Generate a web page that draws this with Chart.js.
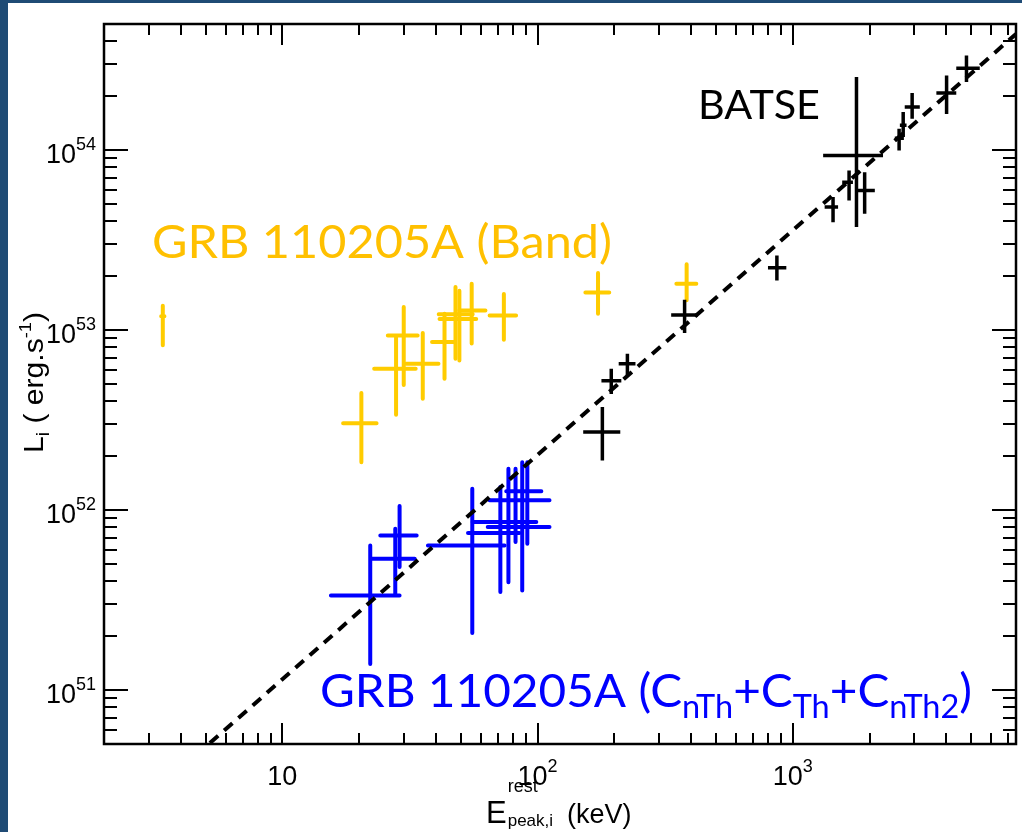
<!DOCTYPE html>
<html>
<head>
<meta charset="utf-8">
<title>GRB 110205A - Li vs Epeak</title>
<script src="https://cdn.jsdelivr.net/npm/chart.js@4.4.1/dist/chart.umd.min.js"></script>
<style>
  html, body { margin: 0; padding: 0; background: #fff; }
  canvas { display: block; }
</style>
</head>
<body>
<canvas id="chart" width="1022" height="832"></canvas>
<script>
// Axis ranges
const X_MIN = 2, X_MAX = 7500;
const Y_MIN = 5e50, Y_MAX = 5e54;

// Major tick labels (base 10 with exponent)
const xMajorTicks = [10, 100, 1000];
const xTickExps = ['', '2', '3'];
const yMajorTicks = [1e51, 1e52, 1e53, 1e54];
const yTickExps = ['51', '52', '53', '54'];

// GRB 110205A (Band) - yellow
const bandE   = [3.4, 20.4, 27.9, 29.9, 35.5, 43.2, 47.7, 49.4, 55.2, 73.8, 172.6, 384];
const bandELo = [3.35, 17.3, 22.9, 25.9, 30.5, 38.6, 41.0, 41.3, 49.4, 64.9, 154, 350];
const bandEHi = [3.45, 23.4, 33.3, 33.9, 40.9, 47.3, 55.7, 57.5, 62.5, 82.4, 191, 419];
const bandL   = [1.19e53, 3.03e52, 6.07e52, 9.3e52, 6.47e52, 8.55e52, 1.22e53, 1.15e53, 1.28e53, 1.20e53, 1.61e53, 1.80e53];
const bandLLo = [8.2e52, 1.84e52, 3.37e52, 4.94e52, 4.14e52, 5.35e52, 6.9e52, 6.75e52, 8.4e52, 8.8e52, 1.23e53, 1.46e53];
const bandLHi = [1.36e53, 4.45e52, 9.1e52, 1.34e53, 9.6e52, 1.23e53, 1.73e53, 1.65e53, 1.80e53, 1.58e53, 2.07e53, 2.31e53];

// BATSE - black
const batseE   = [179.5, 194.5, 225, 377, 867, 1778, 1439, 1663, 1914, 2612, 2710, 2938, 4009, 4797];
const batseELo = [151, 178, 208, 334, 800, 1316, 1334, 1563, 1802, 2512, 2630, 2748, 3656, 4375];
const batseEHi = [211, 213, 242, 425, 944, 2259, 1506, 1722, 2098, 2727, 2793, 3148, 4375, 5408];
const batseL   = [2.71e52, 5.22e52, 6.47e52, 1.21e53, 2.21e53, 9.3e53, 4.81e53, 6.6e53, 5.94e53, 1.16e54, 1.37e54, 1.73e54, 2.07e54, 2.84e54];
const batseLLo = [1.88e52, 4.4e52, 5.57e52, 9.6e52, 1.88e53, 3.72e53, 3.96e53, 5.23e53, 4.41e53, 9.9e53, 1.18e54, 1.49e54, 1.58e54, 2.38e54];
const batseLHi = [3.72e52, 6.07e52, 7.36e52, 1.47e53, 2.59e53, 2.54e54, 5.46e53, 7.67e53, 7.51e53, 1.31e54, 1.62e54, 2.07e54, 2.59e54, 3.34e54];

// GRB 110205A (CnTh+CTh+CnTh2) - blue
const cthE   = [22.1, 27.7, 28.8, 55.5, 71.5, 76.9, 82.0, 87.1, 91.2];
const cthELo = [15.5, 22.3, 24.2, 37.2, 53.4, 55.7, 64.9, 63.8, 75.4];
const cthEHi = [28.8, 33.0, 33.6, 74.3, 84.9, 98.9, 111.4, 111.4, 103.5];
const cthL   = [3.34e51, 5.35e51, 7.2e51, 6.34e51, 7.43e51, 8.55e51, 1.13e52, 8.02e51, 1.27e52];
const cthLLo = [1.39e51, 3.41e51, 4.81e51, 2.07e51, 3.49e51, 3.96e51, 6.62e51, 3.56e51, 6.47e51];
const cthLHi = [6.34e51, 7.84e51, 1.05e52, 1.31e52, 1.34e52, 1.69e52, 1.69e52, 1.84e52, 1.84e52];

// Dashed correlation line (end points)
const fitE = [5.2, 7500];
const fitL = [5.06e50, 4.4e54];

const TICK_FONT = '"Liberation Sans", Arial, sans-serif';
const NOTE_FONT = 'Lato, "Open Sans", sans-serif';

function toPoints(E, ELo, EHi, L, LLo, LHi) {
    return E.map((e, i) => ({ x: e, y: L[i], xMin: ELo[i], xMax: EHi[i], yMin: LLo[i], yMax: LHi[i] }));
}

// Text made of runs: [text, fontSize, yOffset]
function runsWidth(ctx, runs, family) {
    let w = 0;
    runs.forEach(r => {
        ctx.font = r[1] + 'px ' + family;
        w += ctx.measureText(r[0]).width;
    });
    return w;
}

function drawRuns(ctx, runs, family, x, y, color, fitWidth, rotate) {
    const w = runsWidth(ctx, runs, family);
    const sx = fitWidth ? fitWidth / w : 1;
    ctx.save();
    ctx.translate(x, y);
    if (rotate) ctx.rotate(rotate);
    ctx.scale(sx, 1);
    ctx.fillStyle = color;
    ctx.textAlign = 'left';
    ctx.textBaseline = 'alphabetic';
    let cx = 0;
    runs.forEach(r => {
        ctx.font = r[1] + 'px ' + family;
        ctx.fillText(r[0], cx, r[2]);
        cx += ctx.measureText(r[0]).width;
    });
    ctx.restore();
}

// Crosses for each point, drawn under the dashed line
const errorBarPlugin = {
    id: 'errorBars',
    beforeDatasetsDraw(chart) {
        const { ctx, chartArea: a, scales: { x, y } } = chart;
        ctx.save();
        ctx.beginPath();
        ctx.rect(a.left, a.top, a.right - a.left, a.bottom - a.top);
        ctx.clip();
        chart.data.datasets.forEach(ds => {
            if (!ds.errorColor) return;
            ctx.strokeStyle = ds.errorColor;
            ctx.lineWidth = ds.errorWidth;
            ctx.lineCap = ds.errorCap;
            ds.data.forEach(p => {
                const px = x.getPixelForValue(p.x);
                const py = y.getPixelForValue(p.y);
                ctx.beginPath();
                ctx.moveTo(x.getPixelForValue(p.xMin), py);
                ctx.lineTo(x.getPixelForValue(p.xMax), py);
                ctx.moveTo(px, y.getPixelForValue(p.yMax));
                ctx.lineTo(px, y.getPixelForValue(p.yMin));
                ctx.stroke();
            });
        });
        ctx.restore();
    }
};

// Slide background, frame, inward ticks, labels and notes
const framePlugin = {
    id: 'frame',
    beforeDraw(chart) {
        const ctx = chart.ctx;
        ctx.save();
        ctx.fillStyle = '#ffffff';
        ctx.fillRect(0, 0, chart.width, chart.height);
        ctx.fillStyle = '#1f4b75';
        ctx.fillRect(0, 0, 8, chart.height);
        ctx.fillRect(0, 0, chart.width, 3);
        ctx.restore();
    },
    afterDraw(chart) {
        const { ctx, chartArea: a, scales: { x, y } } = chart;
        ctx.save();
        ctx.strokeStyle = '#000';
        ctx.lineWidth = 2;
        ctx.lineCap = 'butt';

        // x ticks on bottom and top
        for (let d = 0; d <= 4; d++) {
            for (let m = 1; m <= 9; m++) {
                const v = m * Math.pow(10, d);
                if (v <= X_MIN || v >= X_MAX) continue;
                const px = Math.round(x.getPixelForValue(v));
                const len = m === 1 ? 21 : 11;
                ctx.beginPath();
                ctx.moveTo(px, a.bottom); ctx.lineTo(px, a.bottom - len);
                ctx.moveTo(px, a.top); ctx.lineTo(px, a.top + len);
                ctx.stroke();
            }
        }
        // y ticks on left and right
        for (let d = 50; d <= 54; d++) {
            for (let m = 1; m <= 9; m++) {
                const v = m * Math.pow(10, d);
                if (v <= Y_MIN * 1.0001 || v >= Y_MAX * 0.9999) continue;
                const py = Math.round(y.getPixelForValue(v));
                const len = m === 1 ? 24 : 13;
                ctx.beginPath();
                ctx.moveTo(a.left, py); ctx.lineTo(a.left + len, py);
                ctx.moveTo(a.right, py); ctx.lineTo(a.right - len, py);
                ctx.stroke();
            }
        }
        // frame
        ctx.lineWidth = 2.5;
        ctx.strokeRect(a.left, a.top, a.right - a.left, a.bottom - a.top);

        // x tick labels
        xMajorTicks.forEach((v, i) => {
            const runs = [['10', 27, 0]];
            if (xTickExps[i]) runs.push([xTickExps[i], 18, -13]);
            const w = runsWidth(ctx, runs, TICK_FONT);
            drawRuns(ctx, runs, TICK_FONT, x.getPixelForValue(v) - w / 2, a.bottom + 41, '#000');
        });
        // y tick labels, right aligned
        yMajorTicks.forEach((v, i) => {
            const runs = [['10', 27, 0], [yTickExps[i], 18, -13]];
            const w = runsWidth(ctx, runs, TICK_FONT);
            drawRuns(ctx, runs, TICK_FONT, 96 - w, y.getPixelForValue(v) + 13, '#000');
        });

        // axis titles
        const xt = [['E', 31, 0]];
        const eW = runsWidth(ctx, xt, TICK_FONT);
        const x0 = 486;
        drawRuns(ctx, xt, TICK_FONT, x0, 823, '#000');
        drawRuns(ctx, [['rest', 18, 0]], TICK_FONT, x0 + eW + 1, 792, '#000');
        drawRuns(ctx, [['peak,i', 17, 0]], TICK_FONT, x0 + eW + 1, 826, '#000');
        drawRuns(ctx, [['(keV)', 27, 0]], TICK_FONT, 567, 823, '#000');

        const yt = [['L', 28, 0], ['i', 18, 6], [' ( erg.s', 28, 0], ['-1', 17, -12], [')', 28, 0]];
        drawRuns(ctx, yt, TICK_FONT, 43, 453, '#000', 141, -Math.PI / 2);

        // notes
        drawRuns(ctx, [['BATSE', 40, 0]], NOTE_FONT, 698, 119, '#000', 122);
        drawRuns(ctx, [['GRB 110205A (Band)', 46, 0]], NOTE_FONT, 152, 258, '#ffc000', 460);
        drawRuns(ctx, [['GRB 110205A (C', 47, 0], ['nTh', 32, 11], ['+C', 47, 0], ['Th', 32, 11],
                       ['+C', 47, 0], ['nTh2', 32, 11], [')', 47, 0]],
                 NOTE_FONT, 320, 707, '#0000ff', 652);
        ctx.restore();
    }
};

function makeChart() {
    const ctx = document.getElementById('chart').getContext('2d');
    new Chart(ctx, {
        type: 'scatter',
        data: {
            datasets: [
                {
                    label: 'fit',
                    data: fitE.map((e, i) => ({ x: e, y: fitL[i] })),
                    showLine: true,
                    borderColor: '#000',
                    borderWidth: 4,
                    borderDash: [11, 8],
                    pointRadius: 0,
                    fill: false
                },
                {
                    label: 'BATSE',
                    data: toPoints(batseE, batseELo, batseEHi, batseL, batseLLo, batseLHi),
                    pointRadius: 0,
                    errorColor: '#000000', errorWidth: 3.5, errorCap: 'butt'
                },
                {
                    label: 'Band',
                    data: toPoints(bandE, bandELo, bandEHi, bandL, bandLLo, bandLHi),
                    pointRadius: 0,
                    errorColor: '#ffcc00', errorWidth: 4, errorCap: 'round'
                },
                {
                    label: 'CnTh+CTh+CnTh2',
                    data: toPoints(cthE, cthELo, cthEHi, cthL, cthLLo, cthLHi),
                    pointRadius: 0,
                    errorColor: '#0000ff', errorWidth: 4, errorCap: 'round'
                }
            ].reverse()
        },
        options: {
            responsive: false,
            animation: false,
            devicePixelRatio: 1,
            layout: { padding: { left: 104, right: 6, top: 24, bottom: 88 } },
            plugins: { legend: { display: false }, tooltip: { enabled: false } },
            scales: {
                x: { type: 'logarithmic', min: X_MIN, max: X_MAX, display: false },
                y: { type: 'logarithmic', min: Y_MIN, max: Y_MAX, display: false }
            }
        },
        plugins: [errorBarPlugin, framePlugin]
    });
}

// Wait for the local fonts before drawing on the canvas
Promise.all(['46px Lato', '27px "Liberation Sans"'].map(f => document.fonts.load(f)))
    .then(makeChart, makeChart);
</script>
</body>
</html>
